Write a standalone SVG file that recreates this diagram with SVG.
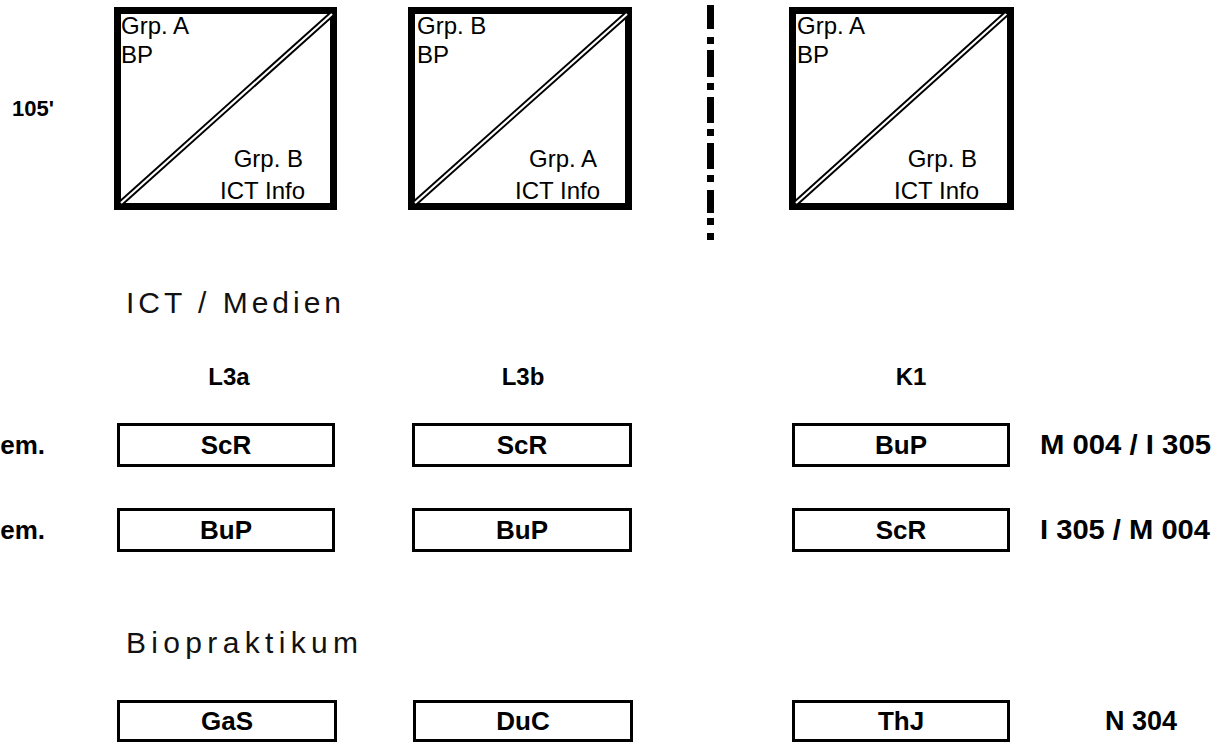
<svg xmlns="http://www.w3.org/2000/svg" width="1222" height="743" viewBox="0 0 1222 743">
<style>
.big{fill:#fff;stroke:#000;stroke-width:7}
.dout{stroke:#000;stroke-width:6;fill:none}
.din{stroke:#fff;stroke-width:2.2;fill:none}
.box{fill:#fff;stroke:#000;stroke-width:3}
.reg{font-family:"Liberation Sans",Arial,sans-serif;font-size:24px;fill:#000}
.b{font-family:"Liberation Sans",Arial,sans-serif;font-weight:bold;font-size:26px;fill:#000}
.bc{font-family:"Liberation Sans",Arial,sans-serif;font-weight:bold;font-size:26px;fill:#000;text-anchor:middle}
.hd{font-family:"Liberation Sans",Arial,sans-serif;font-weight:bold;font-size:24px;fill:#000;text-anchor:middle}
.sec{font-family:"Liberation Sans",Arial,sans-serif;font-size:30px;fill:#111}
.end{text-anchor:end}
</style>
<rect width="1222" height="743" fill="#fff"/>

<text class="b" x="12" y="116" style="font-size:22px">105'</text>

<g id="slot1">
<rect class="big" x="117.5" y="10.5" width="216" height="196"/>
<line class="dout" x1="121" y1="203" x2="332" y2="14"/>
<line class="din" x1="121" y1="203" x2="332" y2="14"/>
<text class="reg" x="121" y="34">Grp. A</text>
<text class="reg" x="121" y="63">BP</text>
<text class="reg end" x="303" y="167">Grp. B</text>
<text class="reg end" x="305" y="199">ICT Info</text>
</g>

<g id="slot2">
<rect class="big" x="411.5" y="10.5" width="217" height="196"/>
<line class="dout" x1="415" y1="203" x2="627" y2="14"/>
<line class="din" x1="415" y1="203" x2="627" y2="14"/>
<text class="reg" x="417" y="34">Grp. B</text>
<text class="reg" x="417" y="63">BP</text>
<text class="reg end" x="597" y="167">Grp. A</text>
<text class="reg end" x="600" y="199">ICT Info</text>
</g>

<g id="divider" fill="#000">
<rect x="707" y="5" width="7" height="24"/>
<rect x="707" y="37" width="7" height="7"/>
<rect x="707" y="50" width="7" height="27"/>
<rect x="707" y="83" width="7" height="7"/>
<rect x="707" y="97" width="7" height="26"/>
<rect x="707" y="129" width="7" height="7"/>
<rect x="707" y="143" width="7" height="26"/>
<rect x="707" y="175" width="7" height="7"/>
<rect x="707" y="190" width="7" height="23"/>
<rect x="707" y="218" width="7" height="7"/>
<rect x="707" y="233" width="7" height="7"/>
</g>

<g id="slot3">
<rect class="big" x="792.5" y="10.5" width="218" height="196"/>
<line class="dout" x1="796" y1="203" x2="1006" y2="14"/>
<line class="din" x1="796" y1="203" x2="1006" y2="14"/>
<text class="reg" x="797" y="34">Grp. A</text>
<text class="reg" x="797" y="63">BP</text>
<text class="reg end" x="977" y="167">Grp. B</text>
<text class="reg end" x="979" y="199">ICT Info</text>
</g>

<text class="sec" x="126" y="313" textLength="215" lengthAdjust="spacing">ICT / Medien</text>

<g id="headers">
<text class="hd" x="229" y="385">L3a</text>
<text class="hd" x="523" y="385">L3b</text>
<text class="hd" x="911" y="385">K1</text>
</g>

<g id="row1">
<text class="b end" x="45" y="454">em.</text>
<g id="r1c1"><rect class="box" x="118.5" y="424.5" width="215" height="41"/><text class="bc" x="226" y="454">ScR</text></g>
<g id="r1c2"><rect class="box" x="413.5" y="424.5" width="217" height="41"/><text class="bc" x="522" y="454">ScR</text></g>
<g id="r1c3"><rect class="box" x="793.5" y="424.5" width="215" height="41"/><text class="bc" x="901" y="454">BuP</text></g>
<text class="b" x="1040" y="454" style="font-size:27px" textLength="171" lengthAdjust="spacingAndGlyphs">M 004 / I 305</text>
</g>

<g id="row2">
<text class="b end" x="45" y="539">em.</text>
<g id="r2c1"><rect class="box" x="118.5" y="509.5" width="215" height="41"/><text class="bc" x="226" y="539">BuP</text></g>
<g id="r2c2"><rect class="box" x="413.5" y="509.5" width="217" height="41"/><text class="bc" x="522" y="539">BuP</text></g>
<g id="r2c3"><rect class="box" x="793.5" y="509.5" width="215" height="41"/><text class="bc" x="901" y="539">ScR</text></g>
<text class="b" x="1040" y="539" style="font-size:27px" textLength="170" lengthAdjust="spacingAndGlyphs">I 305 / M 004</text>
</g>

<text class="sec" x="126" y="653" textLength="232" lengthAdjust="spacing">Biopraktikum</text>

<g id="row3">
<g id="r3c1"><rect class="box" x="118.5" y="701.5" width="217" height="39"/><text class="bc" x="227" y="730">GaS</text></g>
<g id="r3c2"><rect class="box" x="414.5" y="701.5" width="217" height="39"/><text class="bc" x="523" y="730">DuC</text></g>
<g id="r3c3"><rect class="box" x="793.5" y="701.5" width="215" height="39"/><text class="bc" x="901" y="730">ThJ</text></g>
<text class="b" x="1105" y="730" style="font-size:27px">N 304</text>
</g>
</svg>
